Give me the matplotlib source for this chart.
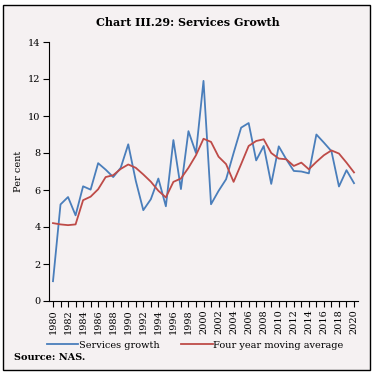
import matplotlib
matplotlib.use("Agg")
import matplotlib.pyplot as plt
from matplotlib.patches import Rectangle
import numpy as np

years = list(range(1980, 2021))
services_growth = [1.07, 5.22, 5.62, 4.63, 6.2, 6.02, 7.45, 7.1, 6.7, 7.2, 8.47,
                   6.5, 4.91, 5.5, 6.62, 5.12, 8.7, 6.05, 9.18, 8.0, 11.9,
                   5.23, 5.95, 6.58, 8.0, 9.37, 9.62, 7.6, 8.38, 6.33, 8.36,
                   7.66, 7.03, 7.0, 6.9, 9.0, 8.56, 8.1, 6.19, 7.07, 6.37]
moving_avg = [4.21, 4.14, 4.1, 4.14, 5.45, 5.64, 6.04, 6.7, 6.8, 7.14, 7.38,
              7.2, 6.84, 6.45, 5.96, 5.6, 6.44, 6.62, 7.2, 7.88, 8.77,
              8.6, 7.8, 7.4, 6.44, 7.4, 8.38, 8.65, 8.74, 8.0, 7.7,
              7.66, 7.3, 7.48, 7.12, 7.52, 7.88, 8.14, 7.97, 7.48, 6.95]
y_ticks = [0, 2, 4, 6, 8, 10, 12, 14]

bg = '#f5f1f2'
plt.rcParams['font.family'] = ['DejaVu Serif']

fig = plt.figure(figsize=(3.76, 3.77), dpi=100)
fig.patch.set_facecolor('white')
fig.patches.append(Rectangle((3 / 376, 7 / 377), 367 / 376, 365 / 377,
                             transform=fig.transFigure, facecolor=bg,
                             edgecolor='black', linewidth=1.0, zorder=-1))

ax = fig.add_axes([49 / 376, 76 / 377, 309 / 376, 259 / 377])
ax.set_zorder(2)
ax.set_facecolor(bg)
ax.plot(years, services_growth, color='#4a7ebb', linewidth=1.3, label='Services growth')
ax.plot(years, moving_avg, color='#be4b48', linewidth=1.3, label='Four year moving average')

ax.set_xlim(1979.47, 2020.53)
ax.set_ylim(0, 14)
ax.set_yticks(y_ticks)
ax.set_xticks(years, minor=True)
ax.set_xticks(years[::2])
ax.set_xticklabels([str(y) for y in years[::2]], rotation=90)
ax.tick_params(axis='x', which='both', length=4, width=0.8, labelsize=7, pad=2)
ax.tick_params(axis='y', length=4, width=0.8, labelsize=7, pad=2)
for s in ['top', 'right']:
    ax.spines[s].set_visible(False)
for s in ['left', 'bottom']:
    ax.spines[s].set_linewidth(0.8)
ax.set_ylabel('Per cent', fontsize=7, labelpad=4)

fig.text(0.5, 355 / 377, 'Chart III.29: Services Growth', ha='center', va='center',
         fontsize=8, fontweight='bold')

leg = fig.legend(loc='center', bbox_to_anchor=(0.52, 32 / 377), ncol=2, frameon=False,
                 fontsize=7, handlelength=3.2, handletextpad=0.1, columnspacing=2.2)
fig.text(14 / 376, 19 / 377, 'Source: NAS.', ha='left', va='center', fontsize=7,
         fontweight='bold')

fig.savefig('out.png', dpi=100, facecolor='white')
